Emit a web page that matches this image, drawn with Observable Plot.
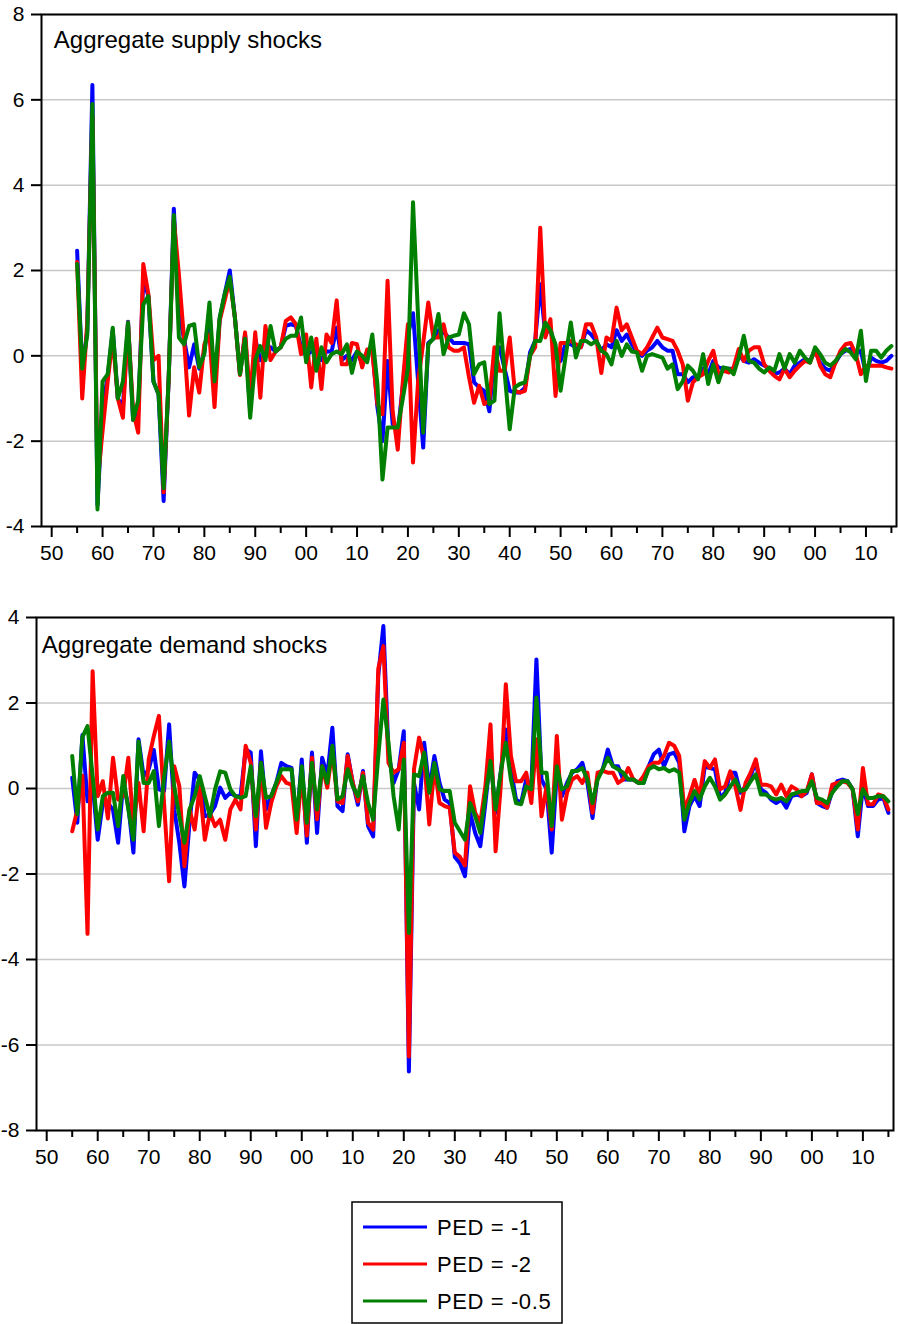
<!DOCTYPE html>
<html><head><meta charset="utf-8">
<script src="https://cdn.jsdelivr.net/npm/d3@7"></script>
<script src="https://cdn.jsdelivr.net/npm/@observablehq/plot@0.6"></script>
<style>
html,body{margin:0;padding:0;background:#fff;}
#wrap{position:relative;width:898px;height:1324px;font-family:Arial,"Liberation Sans",sans-serif;overflow:hidden;}
#top{position:absolute;left:0;top:0;}
#bottom{position:absolute;left:0;top:590px;}
#legend{position:absolute;left:351px;top:1201px;}
svg{overflow:visible;}
</style></head>
<body><div id="wrap"><div id="top"></div><div id="bottom"></div><div id="legend"></div></div>
<script>
const years = d3.range(1855, 2016);
const seriesNames = ["PED = -1", "PED = -2", "PED = -0.5"];
const seriesColors = ["#0000ff", "#ff0000", "#008000"];
const xTicks = d3.range(1850, 2011, 10);
const xMinorTicks = d3.range(1855, 2016, 10);
const supplyTicks = [-4, -2, 0, 2, 4, 6, 8];
const demandTicks = [-8, -6, -4, -2, 0, 2, 4];
const supplyTitle = "Aggregate supply shocks";
const demandTitle = "Aggregate demand shocks";

const supplyPED1 = [
 2.46,-0.35,0.6,6.35,-3.5,-1.2,-0.5,0.6,-1.0,-1.2,
 0.8,-1.5,-1.3,1.8,1.4,-0.6,-0.9,-3.4,-0.5,3.45,
 1.0,0.4,-0.27,0.27,-0.3,0.1,1.0,-0.8,0.85,1.45,
 2.0,0.9,-0.43,0.5,-1.3,0.4,-0.1,0.0,0.2,0.1,
 0.2,0.7,0.74,0.7,0.2,0.0,0.1,0.1,-0.1,0.1,
 0.1,0.66,-0.1,0.0,-0.1,0.1,-0.2,0.1,0.2,-1.2,
 -2.0,-0.12,-1.6,-1.8,-0.7,0.5,1.0,-0.6,-2.15,0.3,
 0.4,0.6,0.55,0.43,0.3,0.3,0.3,0.27,-0.62,-0.74,
 -0.82,-1.3,0.04,0.2,-0.3,-0.82,-0.86,-0.86,-0.75,0.08,
 0.35,1.68,0.5,0.66,-0.04,-0.12,0.3,0.27,0.2,0.2,
 0.6,0.5,0.35,0.12,0.27,0.2,0.6,0.35,0.5,0.27,
 0.08,0.0,0.12,0.2,0.35,0.2,0.12,0.12,-0.43,-0.43,
 -0.62,-0.5,-0.5,-0.3,-0.43,-0.12,-0.27,-0.3,-0.3,-0.3,
 0.04,-0.12,-0.16,-0.08,-0.16,-0.23,-0.3,-0.43,-0.39,-0.3,
 -0.43,-0.23,-0.16,-0.08,-0.12,0.12,-0.16,-0.3,-0.35,-0.16,
 0.04,0.12,0.16,0.04,0.12,-0.43,-0.04,-0.12,-0.16,-0.12,
 0.0];
const supplyPED2 = [
 2.2,-1.0,0.8,5.6,-3.0,-1.76,-0.6,0.43,-1.0,-1.45,
 0.78,-1.3,-1.8,2.15,1.45,-0.1,0.0,-3.2,-0.5,3.2,
 1.9,0.4,-1.4,-0.27,-0.86,0.27,0.5,-1.2,0.82,1.3,
 1.8,0.9,-0.45,0.55,-1.0,0.55,-0.98,0.7,-0.1,0.1,
 0.2,0.82,0.9,0.74,0.04,0.5,-0.74,0.4,-0.78,0.5,
 0.3,1.3,-0.2,-0.2,0.3,0.27,-0.27,0.15,0.1,-1.13,
 -1.37,1.76,-1.3,-2.2,-0.6,0.74,-2.5,-0.6,0.3,1.25,
 0.43,0.43,0.74,0.2,0.12,0.12,0.2,-0.5,-1.1,-0.7,
 -1.13,-1.05,0.2,-0.35,-0.35,0.43,-0.82,-0.86,-0.82,0.0,
 0.2,3.0,0.43,0.86,-0.94,0.3,0.3,0.35,0.27,0.2,
 0.74,0.74,0.43,-0.4,0.43,0.35,1.13,0.6,0.74,0.43,
 0.12,0.04,0.2,0.43,0.66,0.43,0.39,0.35,0.12,-0.2,
 -1.05,-0.62,-0.5,-0.43,-0.12,0.12,-0.43,-0.35,-0.39,-0.27,
 0.16,-0.12,0.12,0.2,0.2,-0.2,-0.35,-0.47,-0.55,-0.3,
 -0.5,-0.35,-0.23,-0.12,-0.16,0.16,-0.23,-0.43,-0.5,-0.16,
 0.12,0.27,0.3,0.04,-0.43,-0.23,-0.23,-0.23,-0.23,-0.27,
 -0.3];
const supplyPED05 = [
 2.15,-0.3,0.5,5.9,-3.6,-0.6,-0.43,0.66,-1.0,-0.6,
 0.78,-1.5,-1.05,1.2,1.4,-0.6,-0.9,-3.1,-0.5,3.3,
 0.43,0.27,0.7,0.74,-0.27,0.04,1.25,-0.6,0.9,1.45,
 1.85,0.9,-0.43,0.4,-1.45,-0.1,0.23,-0.1,0.7,0.1,
 0.2,0.4,0.47,0.47,0.9,-0.15,0.43,-0.35,0.2,-0.15,
 0.04,0.1,0.04,0.27,-0.4,0.1,0.0,-0.15,0.5,-0.66,
 -2.9,-1.68,-1.68,-1.68,-1.0,-0.3,3.6,0.9,-1.8,0.27,
 0.4,0.98,0.04,0.43,0.47,0.5,1.0,0.74,-0.43,-0.2,
 -0.15,-1.13,-1.05,1.0,-0.4,-1.72,-0.74,-0.66,-0.62,0.0,
 0.35,0.35,0.78,0.6,0.27,-0.82,0.0,0.78,-0.04,0.35,
 0.35,0.27,0.35,0.12,0.04,-0.2,0.35,0.0,0.27,0.1,
 0.08,-0.35,0.0,0.04,0.0,-0.04,-0.3,-0.2,-0.78,-0.6,
 -0.23,-0.35,-0.55,0.04,-0.66,-0.2,-0.62,-0.27,-0.3,-0.43,
 -0.04,0.47,-0.12,-0.16,-0.3,-0.39,-0.27,-0.35,0.04,-0.3,
 0.04,-0.16,0.12,-0.04,-0.16,0.2,0.04,-0.16,-0.23,-0.12,
 0.04,0.16,0.08,-0.08,0.59,-0.59,0.12,0.12,-0.04,0.12,
 0.23];

const demandPED1 = [
 0.25,-0.8,1.25,-0.3,0.1,-1.2,-0.34,-0.34,-0.5,-1.27,
 0.13,-0.41,-1.5,1.15,0.29,0.45,0.9,-0.02,-0.06,1.5,
 -0.49,-1.27,-2.29,-0.8,0.37,0.2,-0.65,-0.61,-0.41,0.02,
 -0.22,-0.1,-0.18,-0.18,0.91,0.84,-1.35,0.87,-0.49,-0.18,
 0.13,0.6,0.52,0.48,-0.88,0.68,-1.27,0.84,-1.04,0.72,
 0.29,1.42,-0.41,-0.53,0.8,0.13,-0.38,0.41,-0.88,-1.12,
 2.64,3.8,0.84,0.13,0.45,1.34,-6.62,0.13,-0.49,1.07,
 -0.02,0.76,0.13,-0.26,-0.34,-1.6,-1.75,-2.05,-0.57,-1.04,
 -1.35,-0.34,0.76,-0.57,0.37,1.38,0.45,-0.26,-0.34,0.21,
 0.05,3.02,0.21,-0.02,-1.5,0.37,-0.18,0.13,0.37,0.45,
 0.6,0.13,-0.69,0.29,0.45,0.91,0.52,0.52,0.21,0.21,
 0.21,0.13,0.13,0.52,0.8,0.91,0.52,0.8,0.84,0.6,
 -1.0,-0.41,-0.18,-0.41,0.52,0.48,0.45,-0.22,-0.1,0.37,
 0.37,-0.1,0.05,0.29,0.64,-0.02,-0.1,-0.26,-0.34,-0.26,
 -0.45,-0.18,-0.14,-0.18,-0.1,0.33,-0.34,-0.41,-0.45,-0.06,
 0.17,0.21,0.17,-0.02,-1.12,0.05,-0.41,-0.41,-0.26,-0.22,
 -0.57];
const demandPED2 = [
 -1.0,-0.5,0.3,-3.4,2.74,-0.18,0.17,-0.7,0.72,-0.26,
 -0.18,0.72,-0.88,0.13,-1.0,0.68,1.23,1.7,-0.34,-2.17,
 0.52,0.05,-1.82,-0.49,-0.96,0.05,-1.2,-0.57,-0.88,-0.73,
 -1.2,-0.49,-0.26,-0.49,1.0,0.6,-0.96,0.6,-0.92,-0.34,
 0.05,0.29,0.13,0.09,-1.04,0.37,-1.1,0.72,-0.72,0.52,
 0.02,0.91,-0.3,-0.34,0.76,0.13,-0.3,0.37,-0.8,-0.96,
 2.8,3.33,0.6,0.37,0.45,1.07,-6.27,0.45,1.19,0.68,
 -0.84,0.52,-0.34,-0.41,-0.45,-1.5,-1.6,-1.8,0.05,-0.57,
 -0.8,0.05,1.5,-1.47,0.05,2.44,0.76,0.17,0.17,0.37,
 -0.34,1.15,-0.65,0.05,-0.96,1.23,-0.73,-0.1,0.21,0.29,
 0.13,0.37,-0.57,0.37,0.41,0.37,0.37,0.13,0.21,0.48,
 0.21,0.13,0.29,0.52,0.6,0.6,0.76,1.07,1.0,0.76,
 -0.5,-0.18,0.2,-0.18,0.64,0.48,0.68,-0.02,0.05,0.4,
 0.05,-0.5,0.13,0.37,0.68,0.09,0.09,0.05,-0.14,0.09,
 -0.18,0.05,-0.02,-0.18,-0.06,0.33,-0.34,-0.34,-0.45,0.09,
 0.13,0.17,0.13,-0.02,-0.96,0.48,-0.37,-0.37,-0.14,-0.18,
 -0.49];
const demandPED05 = [
 0.76,-0.6,1.2,1.46,0.3,-0.96,-0.18,-0.1,-0.1,-0.88,
 0.29,-0.49,-1.2,1.1,0.13,0.13,0.41,-0.88,0.25,1.1,
 0.05,-0.65,-1.27,-0.49,-0.18,0.29,-0.18,-0.65,-0.02,0.4,
 0.37,-0.02,-0.18,-0.22,-0.18,0.52,-0.65,0.6,-0.22,-0.18,
 0.13,0.45,0.45,0.45,-0.73,0.52,-0.8,0.6,-0.49,0.52,
 0.13,1.0,-0.26,-0.18,0.45,0.05,-0.18,0.29,-0.34,-0.73,
 0.76,2.08,1.07,-0.18,-0.96,0.68,-3.38,0.33,0.29,0.84,
 -0.1,0.6,-0.02,-0.06,-0.06,-0.8,-1.0,-1.2,-0.34,-0.65,
 -1.04,-0.18,0.64,-0.49,0.37,1.07,0.21,-0.34,-0.37,0.05,
 -0.02,2.13,0.37,0.37,-0.88,0.52,-0.02,0.05,0.41,0.41,
 0.48,0.21,-0.34,0.21,0.45,0.72,0.52,0.45,0.37,0.21,
 0.21,0.13,0.13,0.45,0.52,0.45,0.48,0.4,0.45,0.37,
 -0.73,-0.34,-0.06,-0.26,0.05,0.25,0.05,-0.26,-0.14,0.05,
 0.21,-0.06,-0.02,0.17,0.33,-0.14,-0.14,-0.22,-0.26,-0.22,
 -0.3,-0.14,-0.1,-0.06,-0.06,0.17,-0.22,-0.26,-0.34,-0.1,
 0.05,0.17,0.17,-0.02,-0.6,-0.02,-0.22,-0.22,-0.18,-0.18,
 -0.3];

const FONT = 'Arial, "Liberation Sans", sans-serif';

function panel(o) {
  const lines = o.series.map((vals, i) =>
    Plot.line(vals, {x: (d, j) => years[j], y: d => d, stroke: seriesColors[i],
      strokeWidth: 4, strokeLinejoin: "round", strokeLinecap: "round"}));
  return Plot.plot({
    width: 898, height: o.height,
    marginLeft: o.marginLeft, marginRight: o.marginRight,
    marginTop: o.marginTop, marginBottom: o.marginBottom,
    style: {fontFamily: FONT, fontSize: "21px", color: "#000", background: "#fff", overflow: "visible"},
    x: {domain: [1848, 2016]},
    y: {domain: o.domain},
    marks: [
      Plot.gridY(o.ticks, {stroke: "#c8c8c8", strokeOpacity: 1, strokeWidth: 1.5}),
      ...lines,
      Plot.frame({stroke: "#000", strokeWidth: 2}),
      Plot.axisY(o.ticks, {tickSize: 10, tickPadding: 7, tickFormat: d => String(d),
        strokeWidth: 2, label: null, fontSize: 21, fill: "#000"}),
      Plot.axisX(xTicks, {tickSize: 11, tickPadding: 8,
        tickFormat: d => String(d % 100).padStart(2, "0"),
        strokeWidth: 2, label: null, fontSize: 21, fill: "#000"}),
      Plot.axisX(xMinorTicks, {tickSize: 7, tickFormat: () => "", strokeWidth: 2, label: null}),
      Plot.text([o.title], {frameAnchor: "top-left", dx: o.titleDx, dy: o.titleDy,
        lineAnchor: "top", textAnchor: "start", fontSize: 24, fill: "#000"})
    ]
  });
}

document.getElementById("top").append(panel({
  title: supplyTitle, series: [supplyPED1, supplyPED2, supplyPED05],
  domain: [-4, 8], ticks: supplyTicks, height: 575,
  marginLeft: 41, marginRight: 2, marginTop: 14, marginBottom: 49,
  titleDx: 12.3, titleDy: 16.3
}));
document.getElementById("bottom").append(panel({
  title: demandTitle, series: [demandPED1, demandPED2, demandPED05],
  domain: [-8, 4], ticks: demandTicks, height: 590,
  marginLeft: 36, marginRight: 5, marginTop: 27, marginBottom: 50,
  titleDx: 5.3, titleDy: 18.7
}));

// legend
const lg = d3.select("#legend").append("svg").attr("width", 212).attr("height", 123)
  .style("font-family", FONT);
lg.append("rect").attr("x", 1).attr("y", 1).attr("width", 210).attr("height", 121)
  .attr("fill", "#fff").attr("stroke", "#000").attr("stroke-width", 1.5);
seriesNames.forEach((name, i) => {
  const y = 26 + i * 37;
  lg.append("line").attr("x1", 12).attr("x2", 76).attr("y1", y).attr("y2", y)
    .attr("stroke", seriesColors[i]).attr("stroke-width", 3);
  lg.append("text").attr("x", 86).attr("y", y + 7.5).attr("font-size", 22)
    .attr("letter-spacing", 0.6).attr("fill", "#000").text(name);
});
</script>
</body></html>
